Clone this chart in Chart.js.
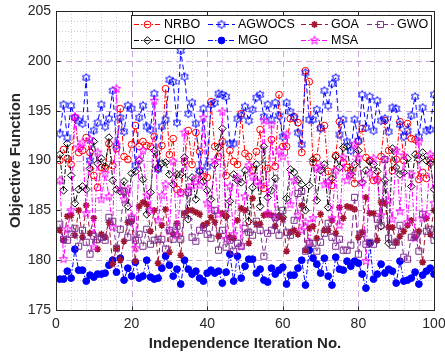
<!DOCTYPE html>
<html><head><meta charset="utf-8">
<script src="https://cdn.jsdelivr.net/npm/chart.js@4.4.1/dist/chart.umd.min.js"></script>
<style>html,body{margin:0;padding:0;background:#fff;overflow:hidden}canvas{display:block}</style>
</head><body>
<canvas id="c" width="445" height="357"></canvas>
<script>
const seriesNames = ['NRBO','AGWOCS','GOA','GWO','CHIO','MGO','MSA'];
const xTicks = [0,20,40,60,80,100];
const yTicks = [175,180,185,190,195,200,205];

const NRBO = [190.0,191.1,190.2,189.6,194.3,190.8,191.0,192.3,190.8,188.5,187.3,189.3,189.2,191.7,189.5,191.2,195.2,190.4,190.1,191.6,
193.5,191.4,191.9,191.5,191.4,192.4,189.2,191.5,197.2,190.6,192.2,187.1,186.8,189.9,193.0,189.6,192.8,190.9,188.4,188.3,
195.9,191.4,190.4,191.9,188.5,191.0,189.9,189.6,194.7,190.7,190.4,189.0,190.9,193.1,187.2,189.2,192.1,189.4,196.6,191.4,
191.4,194.2,194.4,193.8,190.8,199.0,197.9,189.8,190.3,193.3,193.5,188.9,187.5,190.5,193.9,189.8,189.3,189.0,187.7,191.9,
193.2,190.3,190.0,188.0,188.1,190.4,194.0,191.0,189.0,190.1,193.9,190.0,193.7,192.2,192.1,188.1,188.8,188.2,190.0,190.2];

const AGWOCS = [192.7,195.6,192.3,195.5,194.3,194.0,193.7,198.3,190.0,193.0,193.8,195.6,193.4,194.2,197.0,191.5,194.3,192.9,195.5,195.2,
189.5,194.3,195.5,193.4,193.1,196.7,189.1,193.4,194.1,198.1,197.9,193.8,201.0,198.4,194.7,195.8,193.7,189.0,195.2,189.4,
195.6,195.8,196.7,196.6,196.4,191.7,191.7,194.2,194.5,195.4,194.0,195.1,196.3,196.6,194.4,195.6,194.1,195.8,194.5,192.4,
195.8,194.9,194.3,192.8,191.6,198.8,194.1,194.1,195.1,193.2,197.0,195.5,197.7,198.3,192.6,194.1,191.9,191.0,194.1,192.0,
196.6,193.3,196.4,193.0,196.0,194.0,194.2,192.9,195.3,195.2,193.6,192.4,193.0,194.5,196.4,192.4,195.3,193.0,193.1,196.6];

const GOA = [183.0,182.0,184.4,184.5,182.5,185.0,182.3,185.5,182.7,184.2,181.1,182.6,182.3,183.8,179.6,181.2,180.0,181.9,183.8,183.9,
179.9,185.4,185.8,185.6,182.9,185.0,179.7,183.5,185.1,180.8,182.6,183.7,180.5,184.7,185.0,185.0,184.8,184.6,183.5,183.7,
184.3,183.8,182.4,184.7,184.4,182.3,182.2,184.0,185.2,185.0,181.7,186.2,183.6,183.6,184.5,184.6,184.5,183.4,184.4,184.1,
180.9,182.8,183.0,182.6,185.5,181.0,183.2,183.4,182.2,184.6,183.0,183.0,184.0,182.7,185.3,184.2,185.4,185.3,185.1,182.3,
182.8,186.3,184.7,184.7,182.0,185.8,185.7,183.3,183.3,181.8,182.4,182.9,183.5,184.0,182.3,182.9,179.8,184.2,182.6,185.0];

const GWO = [183.6,182.1,182.0,182.6,183.2,181.4,183.0,181.8,180.6,182.4,182.1,182.3,182.0,184.3,183.9,181.2,183.1,186.9,182.3,184.1,
182.0,182.6,181.4,183.1,181.6,182.0,182.1,182.1,181.1,183.0,182.1,183.4,182.1,184.6,186.8,182.3,181.9,183.0,183.3,182.6,
182.2,185.0,181.0,183.0,181.3,182.0,180.9,181.7,181.4,183.2,182.8,182.5,183.9,183.0,180.4,182.7,183.0,184.3,182.5,185.0,
182.8,182.5,184.0,186.7,186.9,180.9,181.7,181.7,180.9,181.8,182.7,183.7,182.3,181.4,182.1,181.0,181.0,181.5,186.3,180.6,
182.7,181.6,181.8,181.6,184.1,183.5,190.1,182.2,181.5,181.8,183.5,180.3,180.1,182.3,182.5,180.9,184.6,182.9,183.1,182.0];

const CHIO = [190.6,187.0,191.7,188.5,185.7,187.1,187.4,187.1,189.2,191.9,189.7,190.2,189.4,192.3,188.0,187.1,186.9,187.9,185.4,188.7,
188.9,190.0,188.1,184.6,186.8,191.0,189.3,189.7,189.8,188.6,187.6,188.6,188.6,190.3,184.1,188.3,186.1,188.9,187.9,187.0,
186.1,189.6,191.3,193.2,184.4,185.9,188.6,188.0,187.8,189.0,183.9,187.3,189.6,185.4,191.4,186.3,187.0,188.2,184.4,184.3,
186.2,189.1,188.8,188.1,187.6,185.0,187.5,190.1,186.0,189.0,189.6,185.3,188.2,190.4,189.3,191.3,191.4,188.6,189.6,191.0,
187.8,189.0,189.9,189.6,188.9,183.4,188.0,181.7,191.2,189.3,188.6,188.8,190.2,187.4,190.6,190.1,190.8,190.0,189.7,187.1];

const MGO = [178.1,178.1,178.9,178.2,181.1,179.0,179.0,177.9,178.5,178.3,178.6,178.6,178.7,179.5,180.0,178.8,180.2,178.0,179.2,178.4,
179.8,178.2,178.4,180.0,178.3,178.1,178.2,179.2,180.4,179.5,178.4,179.1,177.6,180.0,179.1,178.6,178.9,178.2,177.9,178.7,
179.0,178.7,178.9,177.7,178.8,180.6,177.9,180.4,178.2,179.4,180.1,180.1,178.7,179.1,178.0,177.8,179.2,178.6,179.0,179.3,
177.6,178.5,178.5,179.2,180.0,177.5,181.0,180.2,179.6,178.7,180.2,178.4,177.5,180.3,179.1,179.0,179.9,179.4,179.9,179.7,
178.6,177.2,181.7,178.1,178.6,179.6,178.7,179.1,178.9,177.7,179.9,177.9,178.0,178.2,178.8,177.6,178.5,178.9,179.2,178.6];

const MSA = [188.0,180.1,183.1,185.0,194.4,191.3,191.8,184.7,192.1,181.3,190.8,186.1,188.7,186.4,183.3,197.2,187.1,186.1,187.1,184.4,
181.2,190.1,191.0,186.5,185.0,196.0,184.0,186.5,187.6,182.9,189.9,182.5,186.7,192.8,187.0,187.5,188.2,187.5,194.3,185.7,
185.1,190.0,184.6,194.9,182.1,187.4,182.6,188.3,181.4,186.4,189.5,188.4,187.9,187.5,194.0,184.7,193.6,184.3,191.0,190.4,
192.6,185.6,188.0,184.5,183.0,183.8,181.8,184.2,189.2,189.4,187.6,187.8,184.2,189.0,183.5,190.3,188.0,188.6,191.6,190.3,
187.8,179.9,188.7,190.2,188.0,184.5,190.1,186.0,184.1,191.0,184.9,190.5,183.8,188.6,182.2,191.9,184.2,184.5,190.6,185.7];

function makeStar(points, color, r, inner) {
  const s = Math.ceil(r * 2 + 3);
  const cv = document.createElement('canvas');
  cv.width = s; cv.height = s;
  const g = cv.getContext('2d');
  g.strokeStyle = color; g.lineWidth = 1;
  g.beginPath();
  for (let k = 0; k < points * 2; k++) {
    const ang = -Math.PI / 2 + k * Math.PI / points;
    const rr = (k % 2 === 0) ? r : r * inner;
    const px = s / 2 + rr * Math.cos(ang), py = s / 2 + rr * Math.sin(ang);
    if (k) g.lineTo(px, py); else g.moveTo(px, py);
  }
  g.closePath(); g.stroke();
  return cv;
}
const hexStar = makeStar(6, '#0000ff', 4.2, 0.58);
const pentStar = makeStar(5, '#ff00ff', 4.4, 0.42);

const DASH = [5, 3];
const DASHDOT = [5, 2, 1.5, 2];
const NONE = 'rgba(0,0,0,0)';

function pts(arr) { return arr.map((v, i) => ({ x: i + 1, y: v })); }

const styles = {
  NRBO:   { color: '#ff0000', dash: DASHDOT, pointStyle: 'circle', r: 3.4, fill: NONE, bw: 1 },
  AGWOCS: { color: '#0000ff', dash: DASH, pointStyle: hexStar, r: 4, fill: NONE, bw: 1 },
  GOA:    { color: '#a2142f', dash: DASH, pointStyle: 'star', r: 3.4, fill: NONE, bw: 1.6 },
  GWO:    { color: '#7e2f8e', dash: DASH, pointStyle: 'rect', r: 4.3, fill: NONE, bw: 1 },
  CHIO:   { color: '#000000', dash: DASHDOT, pointStyle: 'rectRot', r: 3.8, fill: NONE, bw: 1 },
  MGO:    { color: '#0000ff', dash: DASHDOT, pointStyle: 'circle', r: 3.4, fill: '#0000ff', bw: 1 },
  MSA:    { color: '#ff00ff', dash: DASHDOT, pointStyle: pentStar, r: 4, fill: NONE, bw: 1 }
};
const seriesData = { NRBO, AGWOCS, GOA, GWO, CHIO, MGO, MSA };
const zOrder = { NRBO: 7, CHIO: 6, AGWOCS: 5, MGO: 4, GOA: 3, MSA: 2, GWO: 1 };

const datasets = seriesNames.map(n => {
  const s = styles[n];
  return {
    label: n, data: pts(seriesData[n]), order: zOrder[n],
    borderColor: s.color, borderWidth: 1, borderDash: s.dash,
    pointStyle: s.pointStyle, pointRadius: s.r, pointBorderColor: s.color,
    pointBackgroundColor: s.fill, pointBorderWidth: s.bw, tension: 0, fill: false
  };
});

const TXT = '#262626';
const MAJOR = 'rgba(190,150,210,0.85)';
const MINOR = 'rgba(185,165,205,0.6)';

const axesPlugin = {
  id: 'matlabAxes',
  beforeDraw(chart) {
    const ctx = chart.ctx;
    ctx.save(); ctx.fillStyle = '#fff'; ctx.fillRect(0, 0, chart.width, chart.height); ctx.restore();
  },
  beforeDatasetsDraw(chart) {
    const { ctx, chartArea: a, scales: { x, y } } = chart;
    ctx.save(); ctx.lineWidth = 1;
    ctx.strokeStyle = MINOR; ctx.setLineDash([1, 2]);
    ctx.beginPath();
    for (let v = 0; v <= 100; v += 4) {
      if (v % 20 === 0) continue;
      const px = Math.round(x.getPixelForValue(v)) + 0.5;
      ctx.moveTo(px, a.top); ctx.lineTo(px, a.bottom);
    }
    for (let v = 175; v <= 205; v += 1) {
      if (v % 5 === 0) continue;
      const py = Math.round(y.getPixelForValue(v)) + 0.5;
      ctx.moveTo(a.left, py); ctx.lineTo(a.right, py);
    }
    ctx.stroke();
    ctx.strokeStyle = MAJOR; ctx.setLineDash([6, 4]);
    ctx.beginPath();
    xTicks.forEach(v => {
      if (v === 0 || v === 100) return;
      const px = Math.round(x.getPixelForValue(v)) + 0.5;
      ctx.moveTo(px, a.top); ctx.lineTo(px, a.bottom);
    });
    yTicks.forEach(v => {
      if (v === 175 || v === 205) return;
      const py = Math.round(y.getPixelForValue(v)) + 0.5;
      ctx.moveTo(a.left, py); ctx.lineTo(a.right, py);
    });
    ctx.stroke();
    ctx.restore();
  },
  afterDraw(chart) {
    const { ctx, chartArea: a, scales: { x, y } } = chart;
    ctx.save();
    ctx.setLineDash([]); ctx.strokeStyle = TXT; ctx.lineWidth = 1;
    const L = Math.round(a.left) + 0.5, R = Math.round(a.right) + 0.5, T = Math.round(a.top) + 0.5, B = Math.round(a.bottom) + 0.5;
    ctx.strokeRect(L, T, R - L, B - T);
    ctx.beginPath();
    const tl = 4;
    xTicks.forEach(v => {
      const px = Math.round(x.getPixelForValue(v)) + 0.5;
      ctx.moveTo(px, B); ctx.lineTo(px, B - tl);
      ctx.moveTo(px, T); ctx.lineTo(px, T + tl);
    });
    yTicks.forEach(v => {
      const py = Math.round(y.getPixelForValue(v)) + 0.5;
      ctx.moveTo(L, py); ctx.lineTo(L + tl, py);
      ctx.moveTo(R, py); ctx.lineTo(R - tl, py);
    });
    ctx.stroke();

    // legend
    const bx = 131.5, by = 15.5, bw = 300, bh = 33;
    ctx.fillStyle = '#fff'; ctx.fillRect(bx, by, bw, bh);
    ctx.strokeStyle = TXT; ctx.strokeRect(bx, by, bw, bh);
    const cols = [134, 208, 301, 367];
    const rows = [24, 40];
    const layout = [['NRBO', 0, 0], ['AGWOCS', 1, 0], ['GOA', 2, 0], ['GWO', 3, 0], ['CHIO', 0, 1], ['MGO', 1, 1], ['MSA', 2, 1]];
    ctx.font = '12.5px "Liberation Sans", Arial, sans-serif';
    ctx.textBaseline = 'middle'; ctx.textAlign = 'left';
    layout.forEach(([n, c, r]) => {
      const s = styles[n];
      const x0 = cols[c], x1 = x0 + 27, yy = rows[r] + 0.5;
      ctx.strokeStyle = s.color; ctx.lineWidth = 1; ctx.setLineDash(s.dash);
      ctx.beginPath(); ctx.moveTo(x0, yy); ctx.lineTo(x1, yy); ctx.stroke();
      ctx.setLineDash([]);
      ctx.fillStyle = s.fill; ctx.strokeStyle = s.color; ctx.lineWidth = s.bw;
      Chart.helpers.drawPoint(ctx, { pointStyle: s.pointStyle, radius: s.r, rotation: 0, borderWidth: s.bw }, (x0 + x1) / 2, yy);
      ctx.fillStyle = '#000';
      ctx.fillText(n, x1 + 3, rows[r] + 0.5);
    });
    ctx.restore();
  }
};

new Chart(document.getElementById('c'), {
  type: 'line',
  data: { datasets },
  plugins: [axesPlugin],
  options: {
    responsive: false, animation: false, devicePixelRatio: 1,
    layout: { padding: { top: 11, right: 11, left: 0, bottom: 0 } },
    plugins: { legend: { display: false }, tooltip: { enabled: false } },
    scales: {
      x: {
        type: 'linear', min: 0, max: 100,
        afterBuildTicks: s => { s.ticks = xTicks.map(v => ({ value: v })); },
        afterFit: s => { s.height = 47; s.paddingRight = 0; s.paddingLeft = 0; },
        grid: { display: false, drawTicks: false }, border: { display: false },
        ticks: { color: TXT, font: { family: '"Liberation Sans", Arial, sans-serif', size: 14 }, padding: 6, maxRotation: 0 },
        title: { display: true, text: 'Independence Iteration No.', color: TXT, padding: { top: 0, bottom: 4 },
          font: { family: '"Liberation Sans", Arial, sans-serif', size: 15, weight: 'bold' } }
      },
      y: {
        type: 'linear', min: 175, max: 205,
        afterBuildTicks: s => { s.ticks = yTicks.map(v => ({ value: v })); },
        afterFit: s => { s.width = 56; s.paddingTop = 0; s.paddingBottom = 0; },
        grid: { display: false, drawTicks: false }, border: { display: false },
        ticks: { color: TXT, font: { family: '"Liberation Sans", Arial, sans-serif', size: 14 }, padding: 5 },
        title: { display: true, text: 'Objective Function', color: TXT, padding: { top: 7, bottom: 0 },
          font: { family: '"Liberation Sans", Arial, sans-serif', size: 15, weight: 'bold' } }
      }
    }
  }
});
</script>
</body></html>
